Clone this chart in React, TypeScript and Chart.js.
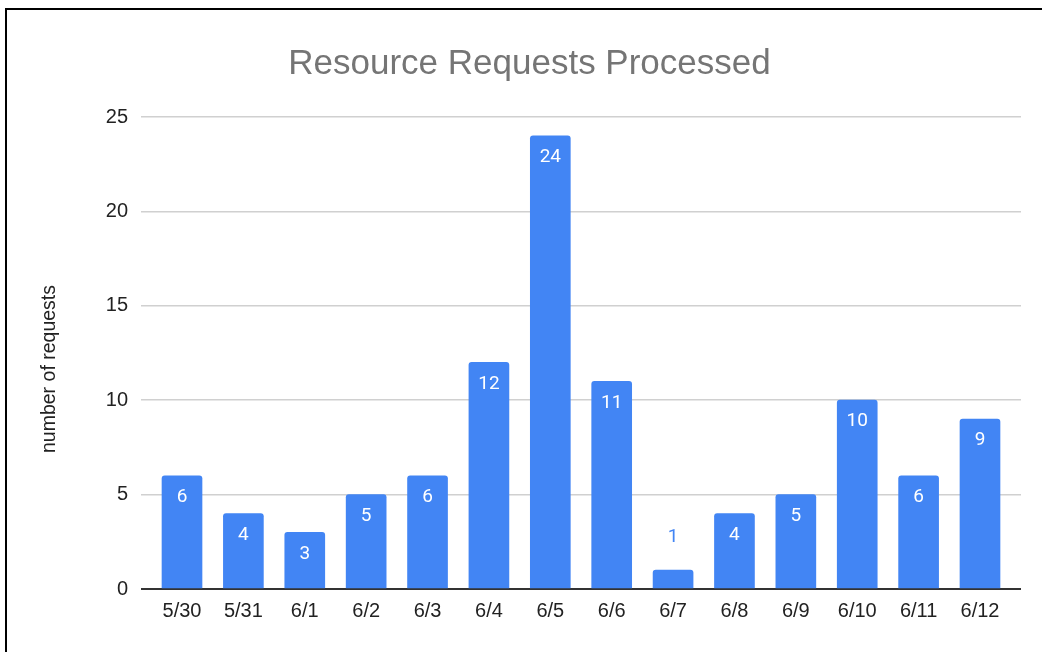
import { useEffect, useRef } from "react";
import { Chart, registerables } from "chart.js";

Chart.register(...registerables);

const categories = ["5/30", "5/31", "6/1", "6/2", "6/3", "6/4", "6/5", "6/6", "6/7", "6/8", "6/9", "6/10", "6/11", "6/12"];
const requests = [6, 4, 3, 5, 6, 12, 24, 11, 1, 4, 5, 10, 6, 9];
const yTicks = [0, 5, 10, 15, 20, 25];

const TITLE = "Resource Requests Processed";
const Y_TITLE = "number of requests";
const BLUE = "#4285F4";
const FONT = "'Liberation Sans', Arial, sans-serif";

const textPlugin = {
  id: "texts",
  afterDraw(chart: any) {
    const ctx = chart.ctx;
    ctx.save();
    ctx.font = `35px ${FONT}`;
    ctx.fillStyle = "#757575";
    ctx.textAlign = "center";
    ctx.textBaseline = "middle";
    ctx.fillText(TITLE, 529.5, 64);
    ctx.restore();

    ctx.save();
    ctx.translate(50, 369);
    ctx.rotate(-Math.PI / 2);
    ctx.font = `19.5px ${FONT}`;
    ctx.fillStyle = "#222";
    ctx.textAlign = "center";
    ctx.textBaseline = "middle";
    ctx.fillText(Y_TITLE, 0, 0);
    ctx.restore();
  },
};

const valueLabelPlugin = {
  id: "valueLabels",
  afterDatasetsDraw(chart: any) {
    const ctx = chart.ctx;
    const meta = chart.getDatasetMeta(0);
    ctx.save();
    ctx.font = `19px Roboto, ${FONT}`;
    ctx.textAlign = "center";
    ctx.textBaseline = "middle";
    meta.data.forEach((bar: any, i: number) => {
      const v = requests[i];
      const h = bar.base - bar.y;
      if (h > 40) {
        ctx.fillStyle = "#ffffff";
        ctx.fillText(String(v), bar.x, bar.y + 21.5);
      } else {
        ctx.fillStyle = BLUE;
        ctx.fillText(String(v), bar.x, bar.y - 33);
      }
    });
    ctx.restore();
  },
};

export default function App() {
  const ref = useRef<HTMLCanvasElement | null>(null);

  useEffect(() => {
    if (!ref.current) return;
    const chart = new Chart(ref.current, {
      type: "bar",
      data: {
        datasets: [
          {
            data: requests.map((v, i) => ({ x: i, y: v })),
            backgroundColor: BLUE,
            barThickness: 40,
            borderRadius: { topLeft: 3, topRight: 3, bottomLeft: 0, bottomRight: 0 },
            borderSkipped: false,
          },
        ],
      },
      options: {
        animation: false,
        responsive: false,
        layout: { padding: { left: 0, right: 21, top: 117, bottom: 0 } },
        plugins: {
          legend: { display: false },
          tooltip: { enabled: false },
          title: { display: false },
        },
        scales: {
          x: {
            type: "linear",
            offset: false,
            min: -0.668,
            max: 13.668,
            grid: { display: false, drawTicks: false },
            border: { display: false },
            afterBuildTicks(scale: any) {
              scale.ticks = categories.map((_, i) => ({ value: i }));
            },
            afterFit(scale: any) {
              scale.height = 63;
            },
            ticks: {
              autoSkip: false,
              maxRotation: 0,
              padding: 10,
              color: "#222",
              font: { family: FONT, size: 20 },
              callback: (value: any) => categories[value as number] ?? "",
            },
          },
          y: {
            min: 0,
            max: 25,
            afterBuildTicks(scale: any) {
              scale.ticks = yTicks.map((v) => ({ value: v }));
            },
            afterFit(scale: any) {
              scale.width = 141;
            },
            grid: {
              drawTicks: false,
              color: (c: any) => (c.tick && c.tick.value === 0 ? "#333333" : "#d0d0d0"),
              lineWidth: (c: any) => (c.tick && c.tick.value === 0 ? 2 : 1.5),
            },
            border: { display: false },
            ticks: {
              padding: 13,
              color: "#222",
              font: { family: FONT, size: 20 },
            },
          },
        },
      },
      plugins: [textPlugin, valueLabelPlugin],
    } as any);
    return () => chart.destroy();
  }, []);

  return (
    <div style={{ position: "fixed", left: 0, top: 0, width: 1042, height: 652, overflow: "hidden", background: "#fff" }}>
      <canvas ref={ref} width={1042} height={652} style={{ position: "absolute", left: 0, top: 0, width: 1042, height: 652 }} />
      <div
        style={{
          position: "absolute",
          left: 5,
          top: 8,
          width: 1100,
          height: 700,
          borderTop: "2px solid #000",
          borderLeft: "2px solid #000",
          pointerEvents: "none",
        }}
      />
    </div>
  );
}
